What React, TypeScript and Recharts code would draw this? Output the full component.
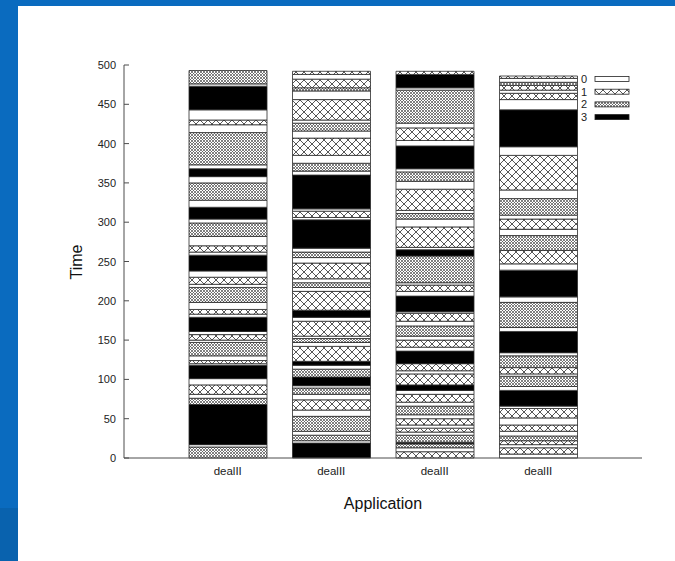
import { Bar, BarChart, Cell, Label, Legend, XAxis, YAxis } from 'recharts';

// one entry per bar on the x axis
const APPS = ['dealII', 'dealII', 'dealII', 'dealII'];
const Y_TICKS = [0, 50, 100, 150, 200, 250, 300, 350, 400, 450, 500];
const KINDS = ['0', '1', '2', '3'];

// phases of each run, bottom to top: kind of phase and its duration
const RUN1_KINDS = [2, 0, 3, 2, 0, 1, 0, 3, 0, 1, 0, 2, 0, 1, 0, 3, 0, 1, 0, 2, 0, 1, 0, 3, 0, 1, 0, 2, 0, 3, 0, 2, 0, 3, 0, 2, 0, 1, 0, 3, 0, 2];
const RUN1_TIMES = [14, 3, 51, 8, 5, 12, 8, 17, 2, 4, 6, 17, 3, 7, 4, 18, 4, 6, 9, 19, 4, 9, 8, 20, 4, 8, 12, 17, 5, 15, 9, 22, 8, 10, 5, 41, 10, 6, 13, 30, 3, 17];

const RUN2_KINDS = [3, 0, 2, 0, 2, 0, 1, 0, 2, 0, 3, 2, 0, 3, 1, 0, 2, 0, 1, 0, 3, 1, 0, 2, 0, 1, 0, 2, 0, 3, 0, 1, 0, 3, 0, 2, 0, 1, 0, 2, 0, 1, 0, 2, 1, 0, 1];
const RUN2_TIMES = [19, 3, 7, 5, 19, 8, 13, 7, 8, 3, 11, 10, 5, 5, 19, 5, 5, 3, 19, 5, 9, 24, 5, 6, 5, 20, 7, 7, 5, 36, 3, 8, 3, 43, 5, 10, 10, 22, 9, 10, 4, 26, 11, 4, 11, 6, 4];

const RUN3_KINDS = [1, 0, 2, 3, 2, 0, 1, 0, 1, 0, 2, 0, 1, 0, 3, 1, 0, 1, 3, 0, 1, 0, 2, 0, 1, 0, 3, 0, 1, 0, 2, 3, 0, 1, 0, 2, 0, 1, 0, 2, 0, 3, 0, 1, 0, 2, 0, 3, 1];
const RUN3_TIMES = [8, 5, 5, 2, 9, 4, 5, 4, 8, 5, 11, 5, 10, 5, 7, 14, 4, 9, 16, 5, 9, 5, 13, 6, 10, 2, 20, 6, 8, 3, 34, 8, 3, 26, 10, 7, 4, 27, 10, 12, 4, 29, 7, 16, 6, 42, 3, 17, 4];

const RUN4_KINDS = [0, 1, 0, 1, 2, 0, 1, 0, 1, 0, 3, 0, 2, 0, 1, 2, 0, 3, 0, 2, 0, 3, 0, 1, 2, 0, 1, 0, 2, 0, 1, 0, 3, 0, 1, 0, 1, 2, 0, 1];
const RUN4_TIMES = [5, 8, 4, 5, 6, 6, 8, 9, 12, 3, 20, 5, 13, 3, 8, 15, 4, 27, 5, 32, 7, 34, 8, 17, 19, 8, 13, 5, 21, 11, 44, 11, 47, 13, 8, 4, 6, 4, 5, 3];

const RUN_KINDS = [RUN1_KINDS, RUN2_KINDS, RUN3_KINDS, RUN4_KINDS];
const RUN_TIMES = [RUN1_TIMES, RUN2_TIMES, RUN3_TIMES, RUN4_TIMES];

const FILLS = ['#ffffff', 'url(#hatchWide)', 'url(#hatchFine)', '#000000'];
const FONT = '"Liberation Sans", Arial, Helvetica, sans-serif';
const FRAME = '#4d4d4d';
const INK = '#222222';

const SEG_COUNT = Math.max(...RUN_TIMES.map((t) => t.length));
const SEG_KEYS = Array.from({ length: SEG_COUNT }, (_, k) => `s${k}`);

const data = APPS.map((app, i) => {
  const row: Record<string, string | number> = { app };
  RUN_TIMES[i].forEach((t, k) => {
    row[`s${k}`] = t;
  });
  return row;
});

function LeftTick(props: any) {
  const { x, y, payload } = props;
  const axisX = x + 8;
  return (
    <g>
      <text x={x} y={y} dy={4} textAnchor="end" fontSize={11} fontFamily={FONT} style={{ fill: INK }}>
        {payload.value}
      </text>
      <line x1={axisX} x2={axisX + 5} y1={y} y2={y} stroke={FRAME} />
    </g>
  );
}

function RightTick(props: any) {
  const { x, y } = props;
  return <line x1={x - 5} x2={x} y1={y} y2={y} stroke={FRAME} />;
}

function KindLegend() {
  return (
    <svg width={60} height={56} style={{ display: 'block' }}>
      {KINDS.map((k, i) => {
        const cy = 9 + i * 12.7;
        return (
          <g key={k}>
            <text
              x={12}
              y={cy + 4}
              textAnchor="end"
              fontSize={11}
              fontFamily={FONT}
              style={{ fill: INK }}
            >
              {k}
            </text>
            <rect x={20} y={cy - 2.5} width={34} height={5} fill={FILLS[i]} stroke={INK} strokeWidth={0.8} />
          </g>
        );
      })}
    </svg>
  );
}

export default function App() {
  return (
    <div
      style={{
        position: 'absolute',
        left: 0,
        top: 0,
        width: 675,
        height: 561,
        background: '#fff',
        overflow: 'hidden',
      }}
    >
      <div style={{ position: 'absolute', left: 0, top: 0, width: 675, height: 6, background: '#0a6bbf' }} />
      <div style={{ position: 'absolute', left: 0, top: 0, width: 18, height: 508, background: '#0a6bbf' }} />
      <div style={{ position: 'absolute', left: 0, top: 508, width: 18, height: 53, background: '#0962ae' }} />
      <div style={{ position: 'absolute', left: 0, top: 0 }}>
        <BarChart
          width={675}
          height={561}
          data={data}
          margin={{ top: 65, right: 33, bottom: 63, left: 64 }}
          barSize={78}
        >
          <defs>
            <pattern id="hatchWide" width={8} height={8} patternUnits="userSpaceOnUse">
              <rect width={8} height={8} fill="#fff" />
              <path d="M0,0 L8,8 M8,0 L0,8" stroke="#444" strokeWidth={0.9} />
            </pattern>
            <pattern id="hatchFine" width={3} height={3} patternUnits="userSpaceOnUse">
              <rect width={3} height={3} fill="#fff" />
              <path d="M0,0 L3,3 M3,0 L0,3" stroke="#555" strokeWidth={0.75} />
            </pattern>
          </defs>
          <XAxis
            dataKey="app"
            height={40}
            padding={{ left: 52, right: 52 }}
            tickLine={false}
            tickSize={0}
            tickMargin={9}
            axisLine={{ stroke: FRAME }}
            tick={{ fontSize: 11.5, fontFamily: FONT, fill: INK }}
          >
            <Label
              content={() => (
                <text x={383} y={509} textAnchor="middle" fontSize={16} fontFamily={FONT} style={{ fill: '#111' }}>
                  Application
                </text>
              )}
            />
          </XAxis>
          <XAxis
            xAxisId="top"
            dataKey="app"
            orientation="top"
            height={0}
            padding={{ left: 52, right: 52 }}
            tick={false}
            tickLine={false}
            axisLine={{ stroke: FRAME }}
          />
          <YAxis
            width={60}
            domain={[0, 500]}
            ticks={Y_TICKS}
            interval={0}
            tickLine={false}
            tickSize={0}
            tickMargin={8}
            axisLine={{ stroke: FRAME }}
            tick={<LeftTick />}
          >
            <Label
              content={() => (
                <text
                  x={82}
                  y={262}
                  transform="rotate(-90 82 262)"
                  textAnchor="middle"
                  fontSize={16}
                  fontFamily={FONT}
                  style={{ fill: '#111' }}
                >
                  Time
                </text>
              )}
            />
          </YAxis>
          <YAxis
            yAxisId="right"
            orientation="right"
            width={0}
            domain={[0, 500]}
            ticks={Y_TICKS}
            interval={0}
            tickLine={false}
            tickSize={0}
            tickMargin={0}
            axisLine={{ stroke: FRAME }}
            tick={<RightTick />}
          />
          <Legend
            layout="vertical"
            align="center"
            verticalAlign="middle"
            wrapperStyle={{ position: 'absolute', left: 575, top: 70, width: 60, height: 56 }}
            content={() => <KindLegend />}
          />
          {SEG_KEYS.map((key, k) => (
            <Bar
              key={key}
              dataKey={key}
              stackId="run"
              stroke="#2a2a2a"
              strokeWidth={0.8}
              isAnimationActive={false}
              legendType="none"
            >
              {APPS.map((_, i) => (
                <Cell
                  key={`${key}-${i}`}
                  fill={k < RUN_KINDS[i].length ? FILLS[RUN_KINDS[i][k]] : 'none'}
                />
              ))}
            </Bar>
          ))}
        </BarChart>
      </div>
    </div>
  );
}
